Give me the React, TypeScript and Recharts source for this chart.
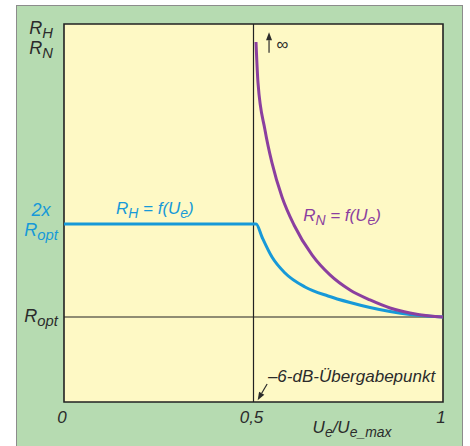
import React from "react";
import {
  LineChart,
  Line,
  XAxis,
  YAxis,
  CartesianGrid,
  ReferenceArea,
  ReferenceLine,
  ReferenceDot,
} from "recharts";

// R_H = f(U_e), main amplifier load (relative to R_opt)
const rhX = [0, 0.25, 0.507, 0.5224, 0.5488, 0.5831, 0.6359, 0.6966, 0.7546, 0.8074, 0.8602, 0.9129, 0.9657, 1];
const rhY = [2, 2, 2, 1.86, 1.645, 1.473, 1.323, 1.226, 1.156, 1.102, 1.059, 1.027, 1.009, 1];

// R_N = f(U_e), peak amplifier load (goes to infinity at 0,5)
const rnX = [0.5066, 0.5119, 0.5303, 0.5488, 0.5752, 0.6069, 0.6544, 0.7018, 0.7546, 0.8074, 0.8602, 0.9129, 0.9657, 1];
const rnY = [3.957, 3.516, 3.011, 2.656, 2.29, 1.989, 1.667, 1.452, 1.29, 1.183, 1.097, 1.043, 1.011, 1];

const xTicks = [0, 0.5, 1];
const xTickLabels = ["0", "0,5", "1"];
const yTicks = [1, 2, 3.96];
// each tick: lines of [main, subscript]
const yTickLabels: [string, string][][] = [
  [["R", "opt"]],
  [["2x", ""], ["R", "opt"]],
  [["R", "H"], ["R", "N"]],
];

const DARK = "#2b2b2b";
const BLUE = "#1799d8";
const PURPLE = "#8b3f9f";
const yTickColors = [DARK, BLUE, DARK];

const rhData = rhX.map((x, i) => ({ x, y: rhY[i] }));
const rnData = rnX.map((x, i) => ({ x, y: rnY[i] }));

const FONT = "'Liberation Sans', Arial, sans-serif";

function RichText({ x, y, parts, fill, size = 17, anchor = "start" }: any) {
  return (
    <text
      x={x}
      y={y}
      fill={fill}
      fontSize={size}
      fontStyle="italic"
      fontFamily={FONT}
      textAnchor={anchor}
      style={{ whiteSpace: "pre" }}
    >
      {parts.map(([m, s]: [string, string], i: number) => (
        <React.Fragment key={i}>
          <tspan dy={i > 0 && parts[i - 1][1] ? -4 : 0}>{m}</tspan>
          {s ? (
            <tspan fontSize={size * 0.82} dy={4}>
              {s}
            </tspan>
          ) : null}
        </React.Fragment>
      ))}
    </text>
  );
}

function arrowShape(p: any) {
  const { x1, y1, x2, y2 } = p;
  const a = Math.atan2(y2 - y1, x2 - x1);
  const L = 8;
  const w = 3;
  const bx = x2 - L * Math.cos(a);
  const by = y2 - L * Math.sin(a);
  const nx = -Math.sin(a) * w;
  const ny = Math.cos(a) * w;
  return (
    <g>
      <line x1={x1} y1={y1} x2={bx} y2={by} stroke={DARK} strokeWidth={1.2} />
      <polygon points={`${x2},${y2} ${bx + nx},${by + ny} ${bx - nx},${by - ny}`} fill={DARK} />
    </g>
  );
}

const annotations = [
  { x: 0.137, y: 2.11, color: BLUE, parts: [["R", "H"], [" = f(U", "e"], [")", ""]] },
  { x: 0.631, y: 2.03, color: PURPLE, parts: [["R", "N"], [" = f(U", "e"], [")", ""]] },
  { x: 0.56, y: 3.87, color: DARK, parts: [["\u221e", ""]] },
  { x: 0.538, y: 0.3, color: DARK, parts: [["\u20136-dB-\u00dcbergabepunkt", ""]] },
];

export default function App() {
  return (
    <div style={{ position: "absolute", left: 0, top: 0, width: 470, height: 446, overflow: "hidden" }}>
      <div
        style={{
          position: "absolute",
          left: 16,
          top: 5,
          width: 445,
          height: 460,
          background: "#b6dbb1",
          borderLeft: "1px solid #8c8c8c",
          borderTop: "1px solid #8c8c8c",
          borderRight: "1px solid #8c8c8c",
        }}
      />
      <div style={{ position: "absolute", left: 0, top: 0 }}>
        <LineChart width={470} height={446} margin={{ top: 24, right: 27, bottom: 14, left: 14 }}>
          <CartesianGrid fill="#fef9c5" horizontal={false} vertical={false} />
          <XAxis
            dataKey="x"
            type="number"
            domain={[0, 1]}
            ticks={xTicks}
            axisLine={false}
            tickLine={false}
            height={30}
            allowDataOverflow
            tick={(p: any) => (
              <text
                x={p.x - 2}
                y={p.y + 13}
                textAnchor="middle"
                fontSize={17}
                fontStyle="italic"
                fontFamily={FONT}
                fill={DARK}
              >
                {xTickLabels[xTicks.indexOf(p.payload.value)]}
              </text>
            )}
            label={{
              content: (props: any) => {
                const vb = props.viewBox;
                return (
                  <RichText
                    x={vb.x + vb.width * 0.76}
                    y={vb.y + 31}
                    anchor="middle"
                    fill={DARK}
                    parts={[["U", "e"], ["/U", "e_max"]]}
                  />
                );
              },
            }}
          />
          <YAxis
            type="number"
            domain={[0.086, 4.15]}
            ticks={yTicks}
            axisLine={false}
            tickLine={false}
            width={50}
            allowDataOverflow
            tick={(p: any) => {
              const i = yTicks.indexOf(p.payload.value);
              const lines = yTickLabels[i];
              const n = lines.length;
              return (
                <g>
                  {lines.map((ln, k) => (
                    <RichText
                      key={k}
                      x={p.x - 15}
                      y={n === 1 ? p.y + 5 : p.y + 2 + (k - (n - 1) / 2) * 20}
                      anchor="middle"
                      size={18}
                      fill={yTickColors[i]}
                      parts={[ln]}
                    />
                  ))}
                </g>
              );
            }}
          />
          <ReferenceArea x1={0} x2={1} y1={0.086} y2={4.15} fill="none" stroke="#222" strokeWidth={1.6} />
          <ReferenceLine x={0.5} stroke="#222" strokeWidth={1.2} />
          <ReferenceLine y={1} stroke="#222" strokeWidth={1.2} />
          <ReferenceLine
            segment={[{ x: 0.541, y: 3.84 }, { x: 0.541, y: 4.06 }]}
            shape={arrowShape}
          />
          <ReferenceLine
            segment={[{ x: 0.536, y: 0.28 }, { x: 0.511, y: 0.105 }]}
            shape={arrowShape}
          />
          {annotations.map((a, i) => (
            <ReferenceDot
              key={i}
              x={a.x}
              y={a.y}
              ifOverflow="visible"
              shape={(p: any) => <RichText x={p.cx} y={p.cy} fill={a.color} parts={a.parts} />}
            />
          ))}
          <Line
            data={rhData}
            dataKey="y"
            type="monotone"
            stroke={BLUE}
            strokeWidth={3}
            dot={false}
            isAnimationActive={false}
          />
          <Line
            data={rnData}
            dataKey="y"
            type="monotone"
            stroke={PURPLE}
            strokeWidth={3}
            dot={false}
            isAnimationActive={false}
          />
        </LineChart>
      </div>
    </div>
  );
}
